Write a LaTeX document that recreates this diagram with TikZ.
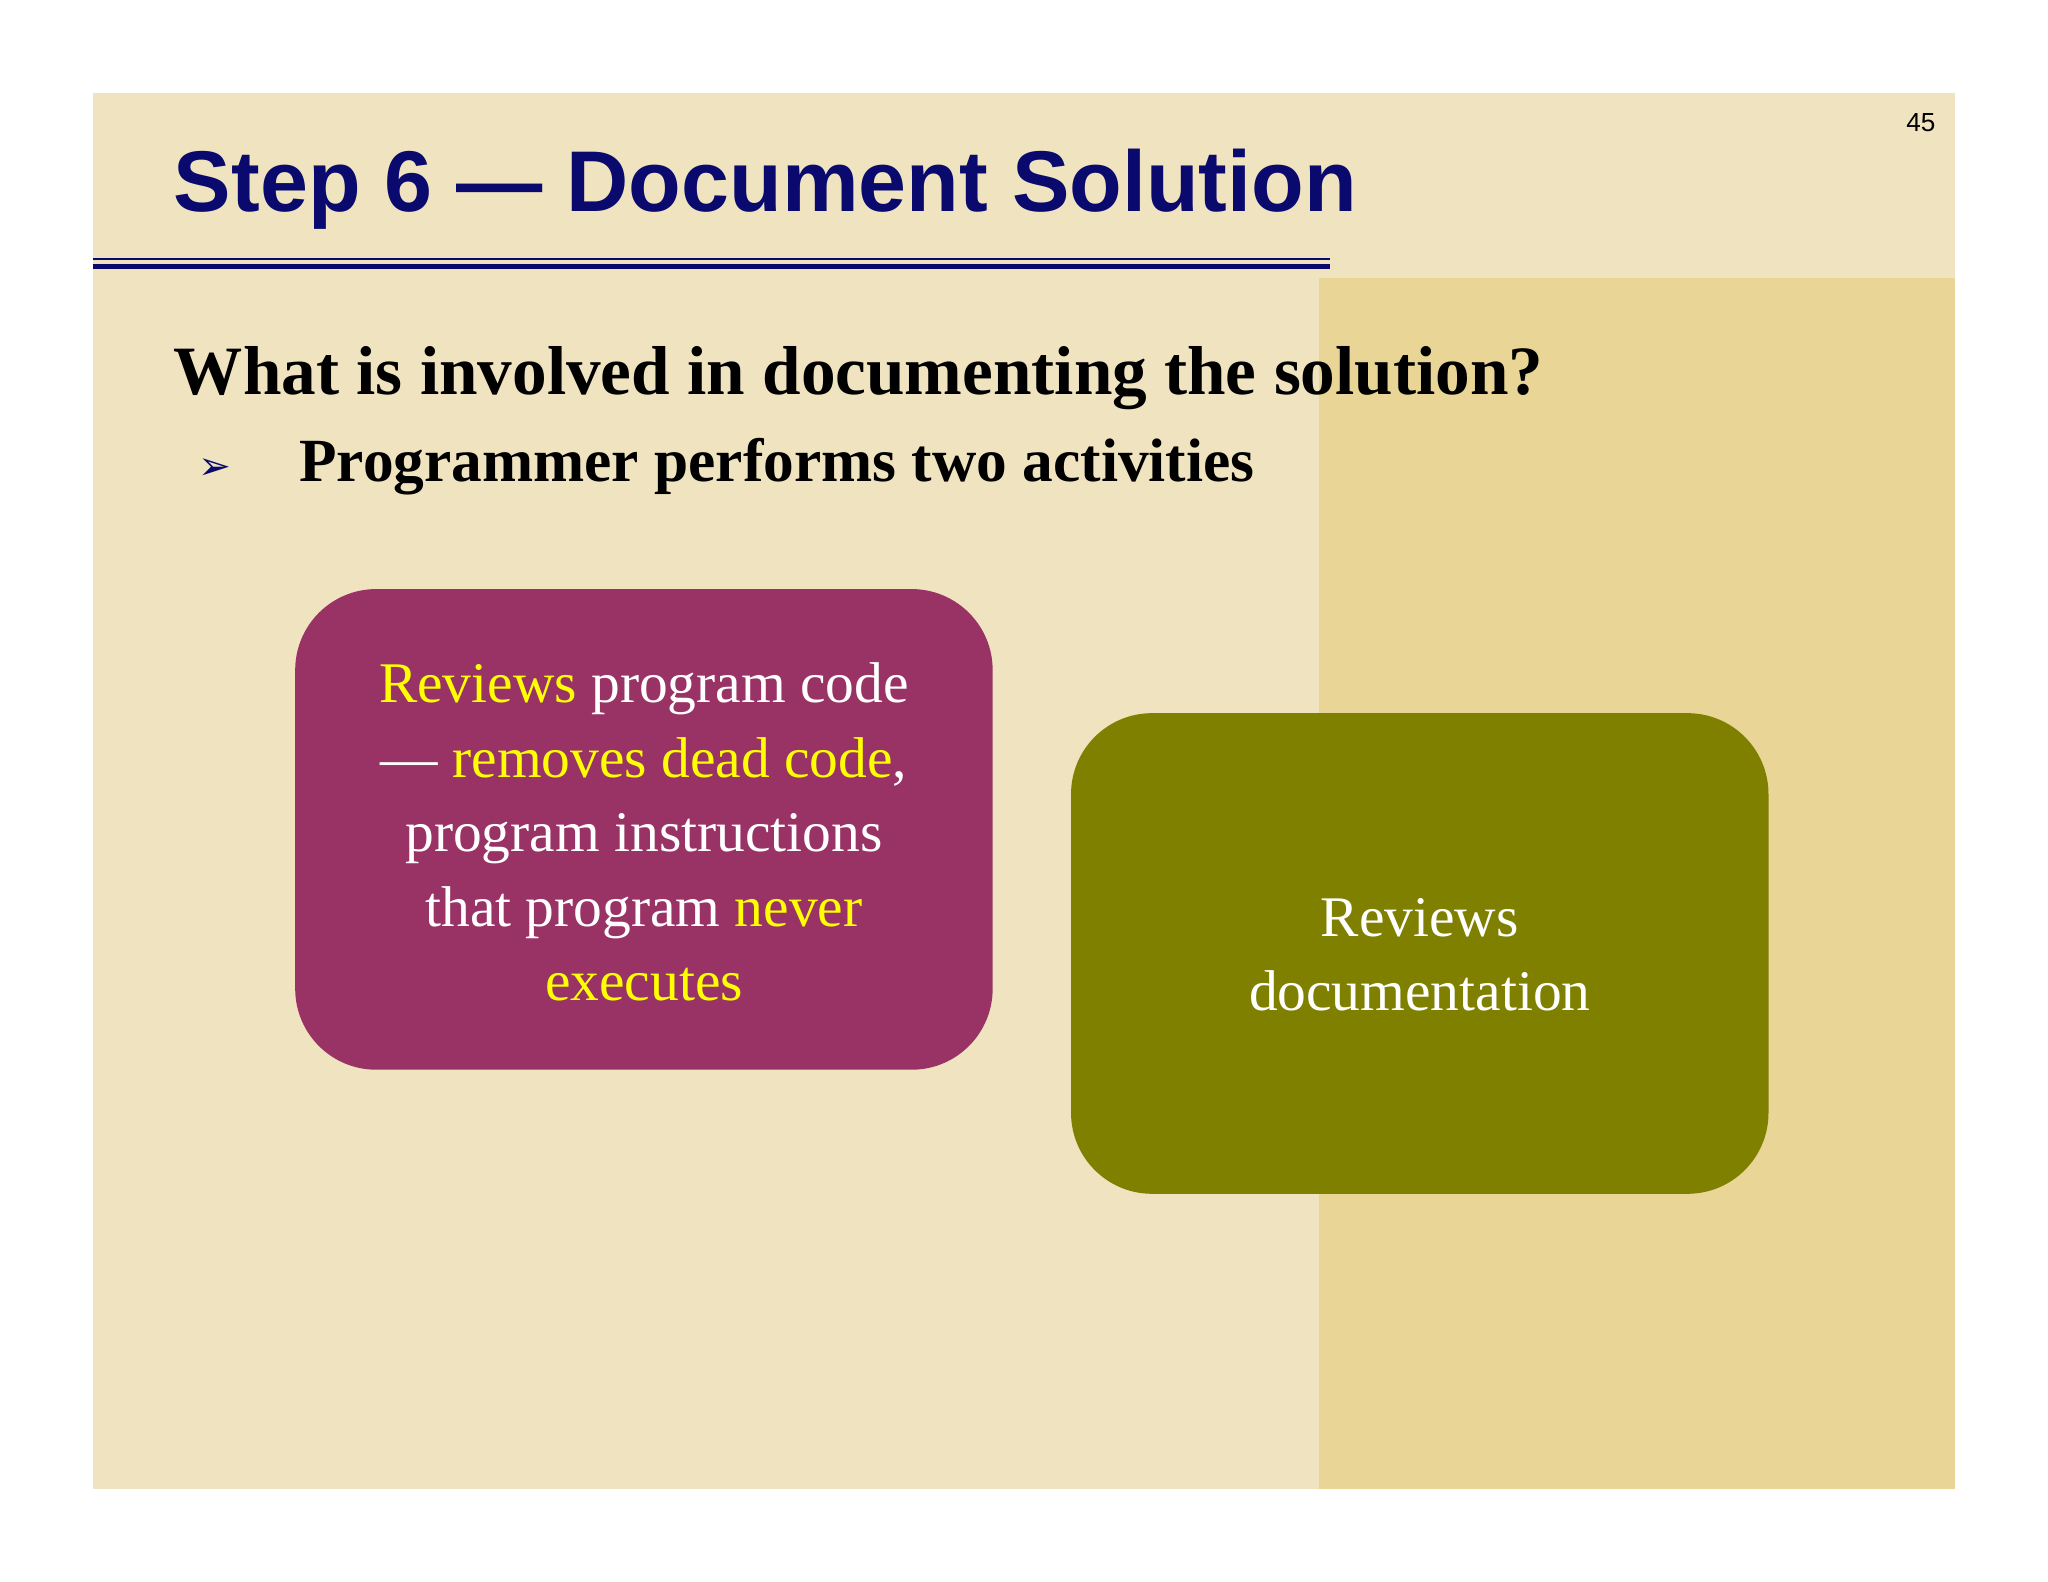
\documentclass[tikz,border=0pt]{standalone}
\usepackage{fontspec}
\setmainfont{Liberation Serif}
\newfontfamily\hsans{Liberation Sans}
\newfontfamily\dsans{DejaVu Sans}
\definecolor{bgA}{HTML}{F0E4C0}
\definecolor{bgB}{HTML}{E9D595}
\definecolor{navy}{HTML}{0A0A6E}
\definecolor{plum}{HTML}{993366}
\definecolor{olive}{HTML}{808000}
\definecolor{yel}{HTML}{FFFF00}
\begin{document}
\begin{tikzpicture}[x=1pt,y=-1pt,
  box/.style={rounded corners=62pt,minimum width=534pt,minimum height=368pt,inner sep=0pt},
  boxtext/.style={align=center,font=\fontsize{44}{57}\selectfont,text=white}]
\useasboundingbox (0,0) rectangle (1568,1211);
\fill[white] (0,0) rectangle (1568,1211);
\fill[bgA] (71,71) rectangle (1497,1140);
\fill[bgB] (1010,213) rectangle (1497,1140);
\node[anchor=base west,inner sep=0pt,text=navy,font=\hsans\bfseries\fontsize{66}{70}\selectfont] (title) at (133,162) {Step 6 — Document Solution};
\draw[navy,line width=1.5pt] (71,198) -- (1018,198);
\draw[navy,line width=4pt] (71,204) -- (1018,204);
\node[anchor=base east,inner sep=0pt,font=\hsans\fontsize{20}{22}\selectfont] (pg) at (1482,101) {45};
\node[anchor=base west,inner sep=0pt,font=\bfseries\fontsize{53}{60}\selectfont] (q) at (133,302) {What is involved in documenting the solution?};
\node[anchor=base west,inner sep=0pt,text=navy,font=\dsans\fontsize{30}{34}\selectfont] (bul) at (152,367) {➢};
\node[anchor=base west,inner sep=0pt,font=\bfseries\fontsize{47}{54}\selectfont] (p) at (229,369) {Programmer performs two activities};
\node[box,fill=plum] (b1) at (493,635) {};
\node[boxtext] (t1) at (493,637) {\textcolor{yel}{Reviews} program code\\— \textcolor{yel}{removes dead code},\\program instructions\\that program \textcolor{yel}{never}\\\textcolor{yel}{executes}};
\node[box,fill=olive] (b2) at (1087,730) {};
\node[boxtext] (t2) at (1087,731) {Reviews\\documentation};
\end{tikzpicture}
\end{document}
